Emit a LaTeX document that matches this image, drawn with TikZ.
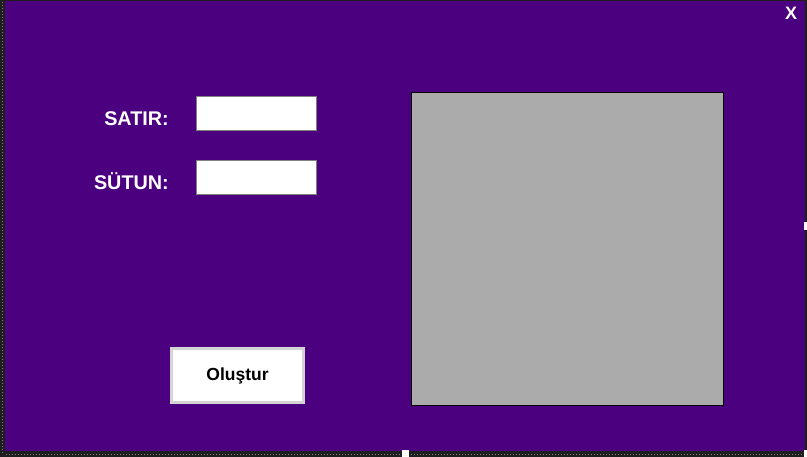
\documentclass[tikz,border=0pt]{standalone}
\usepackage{fontspec}
\setmainfont{Liberation Sans}
\definecolor{mor}{RGB}{75,0,128}
\definecolor{cerceve}{RGB}{30,30,30}
\definecolor{panelgri}{RGB}{171,171,171}
\definecolor{dugmekenar}{RGB}{212,212,212}
\begin{document}
\begin{tikzpicture}[x=1pt,y=-1pt,
	lbl/.style={text=white,font=\bfseries\fontsize{19.8}{22}\selectfont,anchor=base east,inner sep=0pt},
	kutu/.style={draw=gray,fill=white,line width=1pt,minimum width=120pt,minimum height=34pt,inner sep=0pt},
	tutamac/.style={fill=white}]
\useasboundingbox (0,0) rectangle (807,457);
\fill[color=cerceve] (0,0) rectangle (807,457);
\draw[color=gray,dotted,line width=1pt] (2.5,2) -- (2.5,455);
\draw[color=gray,dotted,line width=1pt] (6,454) -- (804,454);
\fill[color=mor] (5,1) rectangle (805,451);
% etiketler ve kutular
\node[lbl] (satir) at (169,126) {SATIR:};
\node[lbl] (sutun) at (169,190) {SÜTUN:};
\node[kutu] (satirkutu) at (256.5,113.5) {};
\node[kutu] (sutunkutu) at (256.5,177.5) {};
% dugme
\node[draw=dugmekenar,fill=white,line width=2.5pt,minimum width=132pt,minimum height=54pt,
	font=\bfseries\fontsize{17.5}{20}\selectfont] (olustur) at (237.5,375.5) {Oluştur};
% gri alan
\node[draw=black,fill=panelgri,line width=0.8pt,minimum width=312pt,minimum height=313pt,inner sep=0pt]
	(panel) at (567,248.5) {};
\node[text=white,font=\bfseries\fontsize{18}{20}\selectfont,inner sep=0pt] (kapat) at (791,13.5) {X};
% tutamaclar
\fill[tutamac] (402,449.5) rectangle (409,457);
\fill[tutamac] (803.5,222.5) rectangle (807,230);
\fill[tutamac] (803.5,449.5) rectangle (807,457);
\end{tikzpicture}
\end{document}
